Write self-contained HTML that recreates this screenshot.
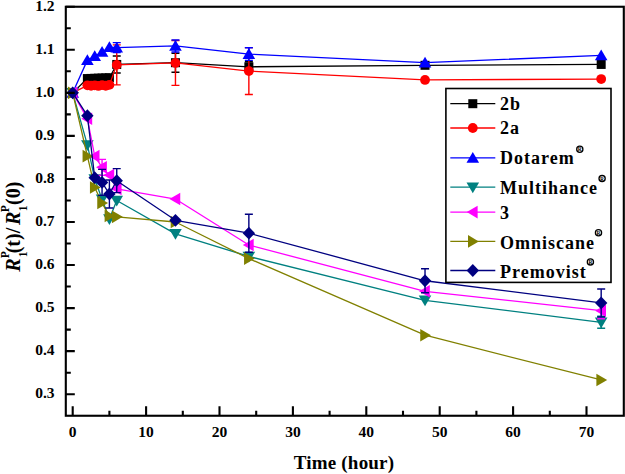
<!DOCTYPE html><html><head><meta charset="utf-8"><style>html,body{margin:0;padding:0;background:#fff;overflow:hidden}svg{display:block}text{font-family:"Liberation Serif",serif;font-weight:bold}</style></head><body>
<svg width="625" height="474" viewBox="0 0 625 474">
<rect width="625" height="474" fill="#fff"/>
<polyline points="72.70,92.85 87.38,78.56 91.05,78.43 94.72,78.30 98.39,78.17 102.06,78.04 105.73,77.91 109.40,77.78 116.74,64.44 175.46,62.71 248.86,66.80 425.02,65.30 601.18,64.44" fill="none" stroke="#000000" stroke-width="1.3" stroke-linejoin="round"/>
<path d="M116.74 55.94V72.94M112.74 55.94H120.74M112.74 72.94H120.74" stroke="#000000" stroke-width="1.4" fill="none"/>
<path d="M175.46 53.21V72.21M171.46 53.21H179.46M171.46 72.21H179.46" stroke="#000000" stroke-width="1.4" fill="none"/>
<path d="M248.86 61.80V71.80M244.86 61.80H252.86M244.86 71.80H252.86" stroke="#000000" stroke-width="1.4" fill="none"/>
<rect x="68.20" y="88.35" width="9" height="9" fill="#000000"/>
<rect x="82.88" y="74.06" width="9" height="9" fill="#000000"/>
<rect x="86.55" y="73.93" width="9" height="9" fill="#000000"/>
<rect x="90.22" y="73.80" width="9" height="9" fill="#000000"/>
<rect x="93.89" y="73.67" width="9" height="9" fill="#000000"/>
<rect x="97.56" y="73.54" width="9" height="9" fill="#000000"/>
<rect x="101.23" y="73.41" width="9" height="9" fill="#000000"/>
<rect x="104.90" y="73.28" width="9" height="9" fill="#000000"/>
<rect x="112.24" y="59.94" width="9" height="9" fill="#000000"/>
<rect x="170.96" y="58.21" width="9" height="9" fill="#000000"/>
<rect x="244.36" y="62.30" width="9" height="9" fill="#000000"/>
<rect x="420.52" y="60.80" width="9" height="9" fill="#000000"/>
<rect x="596.68" y="59.94" width="9" height="9" fill="#000000"/>
<polyline points="72.70,92.85 87.38,85.32 91.05,85.75 94.72,85.32 98.39,85.96 102.06,85.10 105.73,85.75 109.40,84.89 116.74,64.87 175.46,62.93 248.86,71.07 425.02,79.93 601.18,79.07" fill="none" stroke="#ff0000" stroke-width="1.3" stroke-linejoin="round"/>
<path d="M116.74 44.87V84.87M112.74 44.87H120.74M112.74 84.87H120.74" stroke="#ff0000" stroke-width="1.4" fill="none"/>
<path d="M175.46 40.53V85.33M171.46 40.53H179.46M171.46 85.33H179.46" stroke="#ff0000" stroke-width="1.4" fill="none"/>
<path d="M248.86 47.67V94.47M244.86 47.67H252.86M244.86 94.47H252.86" stroke="#ff0000" stroke-width="1.4" fill="none"/>
<circle cx="72.70" cy="92.85" r="4.9" fill="#ff0000"/>
<circle cx="87.38" cy="85.32" r="4.9" fill="#ff0000"/>
<circle cx="91.05" cy="85.75" r="4.9" fill="#ff0000"/>
<circle cx="94.72" cy="85.32" r="4.9" fill="#ff0000"/>
<circle cx="98.39" cy="85.96" r="4.9" fill="#ff0000"/>
<circle cx="102.06" cy="85.10" r="4.9" fill="#ff0000"/>
<circle cx="105.73" cy="85.75" r="4.9" fill="#ff0000"/>
<circle cx="109.40" cy="84.89" r="4.9" fill="#ff0000"/>
<circle cx="116.74" cy="64.87" r="4.9" fill="#ff0000"/>
<circle cx="175.46" cy="62.93" r="4.9" fill="#ff0000"/>
<circle cx="248.86" cy="71.07" r="4.9" fill="#ff0000"/>
<circle cx="425.02" cy="79.93" r="4.9" fill="#ff0000"/>
<circle cx="601.18" cy="79.07" r="4.9" fill="#ff0000"/>
<polyline points="72.70,92.85 87.38,60.13 94.72,56.26 102.06,51.95 109.40,47.22 116.74,47.65 175.46,45.93 248.86,54.10 425.02,62.71 601.18,55.40" fill="none" stroke="#0000ff" stroke-width="1.3" stroke-linejoin="round"/>
<path d="M116.74 42.65V52.65M112.74 42.65H120.74M112.74 52.65H120.74" stroke="#0000ff" stroke-width="1.4" fill="none"/>
<path d="M175.46 39.93V51.93M171.46 39.93H179.46M171.46 51.93H179.46" stroke="#0000ff" stroke-width="1.4" fill="none"/>
<path d="M248.86 47.80V60.40M244.86 47.80H252.86M244.86 60.40H252.86" stroke="#0000ff" stroke-width="1.4" fill="none"/>
<path d="M72.70 86.85L79.00 97.65L66.40 97.65Z" fill="#0000ff"/>
<path d="M87.38 54.13L93.68 64.93L81.08 64.93Z" fill="#0000ff"/>
<path d="M94.72 50.26L101.02 61.06L88.42 61.06Z" fill="#0000ff"/>
<path d="M102.06 45.95L108.36 56.75L95.76 56.75Z" fill="#0000ff"/>
<path d="M109.40 41.22L115.70 52.02L103.10 52.02Z" fill="#0000ff"/>
<path d="M116.74 41.65L123.04 52.45L110.44 52.45Z" fill="#0000ff"/>
<path d="M175.46 39.93L181.76 50.73L169.16 50.73Z" fill="#0000ff"/>
<path d="M248.86 48.10L255.16 58.90L242.56 58.90Z" fill="#0000ff"/>
<path d="M425.02 56.71L431.32 67.51L418.72 67.51Z" fill="#0000ff"/>
<path d="M601.18 49.40L607.48 60.20L594.88 60.20Z" fill="#0000ff"/>
<polyline points="72.70,92.85 87.38,144.94 94.72,178.95 102.06,199.18 109.40,218.99 116.74,200.47 175.46,233.84 248.86,256.44 425.02,300.35 601.18,322.31" fill="none" stroke="#008080" stroke-width="1.3" stroke-linejoin="round"/>
<path d="M601.18 316.31V328.31M597.18 316.31H605.18M597.18 328.31H605.18" stroke="#008080" stroke-width="1.4" fill="none"/>
<path d="M72.70 98.85L79.00 88.05L66.40 88.05Z" fill="#008080"/>
<path d="M87.38 150.94L93.68 140.14L81.08 140.14Z" fill="#008080"/>
<path d="M94.72 184.95L101.02 174.15L88.42 174.15Z" fill="#008080"/>
<path d="M102.06 205.18L108.36 194.38L95.76 194.38Z" fill="#008080"/>
<path d="M109.40 224.99L115.70 214.19L103.10 214.19Z" fill="#008080"/>
<path d="M116.74 206.47L123.04 195.67L110.44 195.67Z" fill="#008080"/>
<path d="M175.46 239.84L181.76 229.04L169.16 229.04Z" fill="#008080"/>
<path d="M248.86 262.44L255.16 251.64L242.56 251.64Z" fill="#008080"/>
<path d="M425.02 306.35L431.32 295.55L418.72 295.55Z" fill="#008080"/>
<path d="M601.18 328.31L607.48 317.51L594.88 317.51Z" fill="#008080"/>
<polyline points="72.70,92.85 87.38,118.68 94.72,156.13 102.06,167.33 109.40,175.08 116.74,188.85 175.46,199.05 248.86,245.03 425.02,291.31 601.18,310.68" fill="none" stroke="#ff00ff" stroke-width="1.3" stroke-linejoin="round"/>
<path d="M102.06 159.33V175.33M98.06 159.33H106.06M98.06 175.33H106.06" stroke="#ff00ff" stroke-width="1.4" fill="none"/>
<path d="M601.18 302.68V318.68M597.18 302.68H605.18M597.18 318.68H605.18" stroke="#ff00ff" stroke-width="1.4" fill="none"/>
<path d="M66.70 92.85L77.50 86.55L77.50 99.15Z" fill="#ff00ff"/>
<path d="M81.38 118.68L92.18 112.38L92.18 124.98Z" fill="#ff00ff"/>
<path d="M88.72 156.13L99.52 149.83L99.52 162.43Z" fill="#ff00ff"/>
<path d="M96.06 167.33L106.86 161.03L106.86 173.63Z" fill="#ff00ff"/>
<path d="M103.40 175.08L114.20 168.78L114.20 181.38Z" fill="#ff00ff"/>
<path d="M110.74 188.85L121.54 182.55L121.54 195.15Z" fill="#ff00ff"/>
<path d="M169.46 199.05L180.26 192.75L180.26 205.35Z" fill="#ff00ff"/>
<path d="M242.86 245.03L253.66 238.73L253.66 251.33Z" fill="#ff00ff"/>
<path d="M419.02 291.31L429.82 285.01L429.82 297.61Z" fill="#ff00ff"/>
<path d="M595.18 310.68L605.98 304.38L605.98 316.98Z" fill="#ff00ff"/>
<polyline points="72.70,92.85 87.38,156.13 94.72,187.56 102.06,203.06 109.40,215.97 116.74,216.83 175.46,222.00 248.86,258.59 425.02,335.22 601.18,379.99" fill="none" stroke="#808000" stroke-width="1.3" stroke-linejoin="round"/>
<path d="M78.70 92.85L67.90 86.55L67.90 99.15Z" fill="#808000"/>
<path d="M93.38 156.13L82.58 149.83L82.58 162.43Z" fill="#808000"/>
<path d="M100.72 187.56L89.92 181.26L89.92 193.86Z" fill="#808000"/>
<path d="M108.06 203.06L97.26 196.76L97.26 209.36Z" fill="#808000"/>
<path d="M115.40 215.97L104.60 209.67L104.60 222.27Z" fill="#808000"/>
<path d="M122.74 216.83L111.94 210.53L111.94 223.13Z" fill="#808000"/>
<path d="M181.46 222.00L170.66 215.70L170.66 228.30Z" fill="#808000"/>
<path d="M254.86 258.59L244.06 252.29L244.06 264.89Z" fill="#808000"/>
<path d="M431.02 335.22L420.22 328.92L420.22 341.52Z" fill="#808000"/>
<path d="M607.18 379.99L596.38 373.69L596.38 386.29Z" fill="#808000"/>
<polyline points="72.70,92.85 87.38,115.67 94.72,177.66 102.06,182.39 109.40,194.02 116.74,180.67 175.46,220.28 248.86,233.19 425.02,280.76 601.18,302.93" fill="none" stroke="#000080" stroke-width="1.3" stroke-linejoin="round"/>
<path d="M102.06 169.39V195.39M98.06 169.39H106.06M98.06 195.39H106.06" stroke="#000080" stroke-width="1.4" fill="none"/>
<path d="M109.40 180.02V208.02M105.40 180.02H113.40M105.40 208.02H113.40" stroke="#000080" stroke-width="1.4" fill="none"/>
<path d="M116.74 168.67V192.67M112.74 168.67H120.74M112.74 192.67H120.74" stroke="#000080" stroke-width="1.4" fill="none"/>
<path d="M248.86 214.19V252.19M244.86 214.19H252.86M244.86 252.19H252.86" stroke="#000080" stroke-width="1.4" fill="none"/>
<path d="M425.02 268.76V292.76M421.02 268.76H429.02M421.02 292.76H429.02" stroke="#000080" stroke-width="1.4" fill="none"/>
<path d="M601.18 288.93V316.93M597.18 288.93H605.18M597.18 316.93H605.18" stroke="#000080" stroke-width="1.4" fill="none"/>
<path d="M72.70 86.45L78.90 92.85L72.70 99.25L66.50 92.85Z" fill="#000080"/>
<path d="M87.38 109.27L93.58 115.67L87.38 122.07L81.18 115.67Z" fill="#000080"/>
<path d="M94.72 171.26L100.92 177.66L94.72 184.06L88.52 177.66Z" fill="#000080"/>
<path d="M102.06 175.99L108.26 182.39L102.06 188.79L95.86 182.39Z" fill="#000080"/>
<path d="M109.40 187.62L115.60 194.02L109.40 200.42L103.20 194.02Z" fill="#000080"/>
<path d="M116.74 174.27L122.94 180.67L116.74 187.07L110.54 180.67Z" fill="#000080"/>
<path d="M175.46 213.88L181.66 220.28L175.46 226.68L169.26 220.28Z" fill="#000080"/>
<path d="M248.86 226.79L255.06 233.19L248.86 239.59L242.66 233.19Z" fill="#000080"/>
<path d="M425.02 274.36L431.22 280.76L425.02 287.16L418.82 280.76Z" fill="#000080"/>
<path d="M601.18 296.53L607.38 302.93L601.18 309.33L594.98 302.93Z" fill="#000080"/>
<rect x="65.8" y="6.75" width="558.00" height="409.00" fill="none" stroke="#000" stroke-width="2.1"/>
<path d="M72.70 415.75V406.25M146.10 415.75V406.25M219.50 415.75V406.25M292.90 415.75V406.25M366.30 415.75V406.25M439.70 415.75V406.25M513.10 415.75V406.25M586.50 415.75V406.25M109.40 415.75V410.75M182.80 415.75V410.75M256.20 415.75V410.75M329.60 415.75V410.75M403.00 415.75V410.75M476.40 415.75V410.75M549.80 415.75V410.75M65.8 394.20H74.8M65.8 351.15H74.8M65.8 308.10H74.8M65.8 265.05H74.8M65.8 222.00H74.8M65.8 178.95H74.8M65.8 135.90H74.8M65.8 92.85H74.8M65.8 49.80H74.8M65.8 6.75H74.8M65.8 372.68H70.8M65.8 329.62H70.8M65.8 286.57H70.8M65.8 243.52H70.8M65.8 200.47H70.8M65.8 157.42H70.8M65.8 114.37H70.8M65.8 71.32H70.8M65.8 28.28H70.8" stroke="#000" stroke-width="2.1" fill="none"/>
<text x="72.70" y="437.3" font-size="15.5" text-anchor="middle" fill="#000">0</text>
<text x="146.10" y="437.3" font-size="15.5" text-anchor="middle" fill="#000">10</text>
<text x="219.50" y="437.3" font-size="15.5" text-anchor="middle" fill="#000">20</text>
<text x="292.90" y="437.3" font-size="15.5" text-anchor="middle" fill="#000">30</text>
<text x="366.30" y="437.3" font-size="15.5" text-anchor="middle" fill="#000">40</text>
<text x="439.70" y="437.3" font-size="15.5" text-anchor="middle" fill="#000">50</text>
<text x="513.10" y="437.3" font-size="15.5" text-anchor="middle" fill="#000">60</text>
<text x="586.50" y="437.3" font-size="15.5" text-anchor="middle" fill="#000">70</text>
<text x="54.5" y="398.00" font-size="15.5" text-anchor="end" fill="#000">0.3</text>
<text x="54.5" y="354.95" font-size="15.5" text-anchor="end" fill="#000">0.4</text>
<text x="54.5" y="311.90" font-size="15.5" text-anchor="end" fill="#000">0.5</text>
<text x="54.5" y="268.85" font-size="15.5" text-anchor="end" fill="#000">0.6</text>
<text x="54.5" y="225.80" font-size="15.5" text-anchor="end" fill="#000">0.7</text>
<text x="54.5" y="182.75" font-size="15.5" text-anchor="end" fill="#000">0.8</text>
<text x="54.5" y="139.70" font-size="15.5" text-anchor="end" fill="#000">0.9</text>
<text x="54.5" y="96.65" font-size="15.5" text-anchor="end" fill="#000">1.0</text>
<text x="54.5" y="53.60" font-size="15.5" text-anchor="end" fill="#000">1.1</text>
<text x="54.5" y="10.55" font-size="15.5" text-anchor="end" fill="#000">1.2</text>
<text x="344" y="469" font-size="19" text-anchor="middle" letter-spacing="0.2" fill="#000">Time (hour)</text>
<g transform="translate(19.6,272.5) rotate(-90)" font-size="20" fill="#000"><text x="0.8" y="0" font-style="italic">R</text><text x="14.2" y="-10.6" font-size="11.5">P</text><text x="15.2" y="7.3" font-size="11.5">1</text><text x="19.2" y="0">(t)/</text><text x="47.5" y="0" font-style="italic">R</text><text x="60.2" y="-10.6" font-size="11.5">P</text><text x="61.2" y="7.3" font-size="11.5">1</text><text x="67.6" y="0">(0)</text></g>
<rect x="445.9" y="88.5" width="165.10" height="193.90" fill="#fff" stroke="#000" stroke-width="1.6"/>
<path d="M450.3 103.7H495.3" stroke="#000000" stroke-width="1.3"/>
<rect x="468.30" y="99.20" width="9" height="9" fill="#000000"/>
<text x="500" y="109.9" font-size="18" letter-spacing="1.0" fill="#000">2b</text>
<path d="M450.3 128H495.3" stroke="#ff0000" stroke-width="1.3"/>
<circle cx="472.80" cy="128.00" r="4.9" fill="#ff0000"/>
<text x="500" y="134.3" font-size="18" letter-spacing="1.0" fill="#000">2a</text>
<path d="M450.3 157.9H495.3" stroke="#0000ff" stroke-width="1.3"/>
<path d="M472.80 151.90L479.10 162.70L466.50 162.70Z" fill="#0000ff"/>
<text x="500" y="164.3" font-size="18" letter-spacing="1.0" fill="#000">Dotarem</text>
<circle cx="579.8" cy="149.3" r="3.1" fill="none" stroke="#000" stroke-width="1.3"/><text x="579.8" y="151.2" font-size="5.5" text-anchor="middle" fill="#000">R</text>
<path d="M450.3 187.2H495.3" stroke="#008080" stroke-width="1.3"/>
<path d="M472.80 193.20L479.10 182.40L466.50 182.40Z" fill="#008080"/>
<text x="500" y="193.6" font-size="18" letter-spacing="1.0" fill="#000">Multihance</text>
<circle cx="602.1" cy="178.6" r="3.1" fill="none" stroke="#000" stroke-width="1.3"/><text x="602.1" y="180.5" font-size="5.5" text-anchor="middle" fill="#000">R</text>
<path d="M450.3 212.1H495.3" stroke="#ff00ff" stroke-width="1.3"/>
<path d="M466.80 212.10L477.60 205.80L477.60 218.40Z" fill="#ff00ff"/>
<text x="500" y="218.5" font-size="18" letter-spacing="1.0" fill="#000">3</text>
<path d="M450.3 241.4H495.3" stroke="#808000" stroke-width="1.3"/>
<path d="M478.80 241.40L468.00 235.10L468.00 247.70Z" fill="#808000"/>
<text x="500" y="248.6" font-size="18" letter-spacing="1.0" fill="#000">Omniscane</text>
<circle cx="598.5" cy="232.8" r="3.1" fill="none" stroke="#000" stroke-width="1.3"/><text x="598.5" y="234.7" font-size="5.5" text-anchor="middle" fill="#000">R</text>
<path d="M450.3 270.5H495.3" stroke="#000080" stroke-width="1.3"/>
<path d="M472.80 264.10L479.00 270.50L472.80 276.90L466.60 270.50Z" fill="#000080"/>
<text x="500" y="278.1" font-size="18" letter-spacing="1.0" fill="#000">Premovist</text>
<circle cx="590.4" cy="261.9" r="3.1" fill="none" stroke="#000" stroke-width="1.3"/><text x="590.4" y="263.8" font-size="5.5" text-anchor="middle" fill="#000">R</text>
</svg></body></html>
